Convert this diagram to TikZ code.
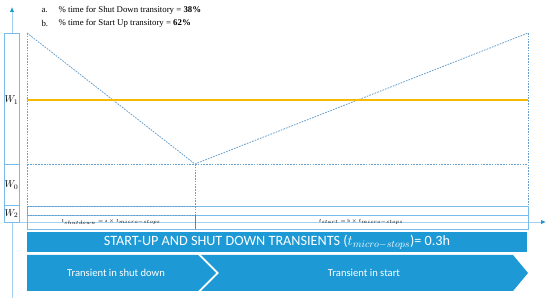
\documentclass[tikz,border=0pt]{standalone}
\usepackage{amsmath}
\usepackage{fontspec}
\setmainfont{Liberation Serif}
\newfontfamily\calibri{Carlito}
\usetikzlibrary{arrows.meta}

\definecolor{barblue}{RGB}{29,154,214}
\definecolor{boxblue}{RGB}{120,188,236}
\definecolor{dotblue}{RGB}{105,160,205}
\definecolor{axisblue}{RGB}{165,208,238}
\definecolor{wgold}{RGB}{247,186,0}

\begin{document}
\begin{tikzpicture}[x=1pt, y=-1pt,
    axis/.style={axisblue, line width=0.8pt, -{Latex[length=5pt, width=4.5pt, color=barblue]}},
    dotline/.style={dotblue, line width=0.8pt, dash pattern=on 1.7pt off 1.1pt},
    wbox/.style={boxblue, fill=white, line width=0.8pt},
    tbox/.style={boxblue, line width=0.8pt},
    chevron/.style={fill=barblue, draw=none},
    toptext/.style={anchor=west, font=\fontsize{8.8}{10}\selectfont},
    wlabel/.style={inner sep=0pt, font=\fontsize{10}{12}\selectfont},
    tlabel/.style={font=\fontsize{4.6}{5.5}\selectfont},
    bartext/.style={text=white, font=\calibri\fontsize{14.2}{16}\selectfont},
    chevtext/.style={text=white, font=\calibri\fontsize{10.6}{12}\selectfont}]
    \useasboundingbox (0,0) rectangle (550,302);

    % Axes
    \draw[axis] (12,298) -- (12,7);
    \draw[axis] (12,222) -- (546,222);

    % Percentages
    \node[toptext] (itema) at (38,10) {a.};
    \node[toptext] (texta) at (55,10) {\% time for Shut Down transitory = \textbf{38\%}};
    \node[toptext] (itemb) at (38,23.5) {b.};
    \node[toptext] (textb) at (55,23.5) {\% time for Start Up transitory = \textbf{62\%}};

    % Power levels on the left
    \draw[wbox] (4,33) rectangle (19,164);
    \draw[wbox] (4,164) rectangle (19,205);
    \draw[wbox] (4,205) rectangle (19,222);
    \node[wlabel] (w1) at (11.5,100) {$W_1$};
    \node[wlabel] (w0) at (11.5,185) {$W_0$};
    \node[wlabel] (w2) at (11.5,213.5) {$W_2$};

    % W2 band and time boxes
    \draw[tbox] (27,206) rectangle (528,215);
    \draw[tbox] (27,215) rectangle (195,229);
    \draw[tbox] (195,215) rectangle (528,229);
    \draw[barblue, line width=0.8pt] (195,215) -- (195,229);
    \node[tlabel] (tshut) at (111,222) {$t_{shutdown}=\mathrm{a}\times t_{micro-stops}$};
    \node[tlabel] (tstart) at (361,222) {$t_{start}=\mathrm{b}\times t_{micro-stops}$};

    % Dotted frame and transients
    \draw[dotline] (27,33) -- (27,215);
    \draw[dotline] (528,33) -- (528,206);
    \draw[dotline] (27,164) -- (528,164);
    \draw[dotline] (27,206) -- (195,206);
    \draw[dotline] (27,215) -- (195,215);
    \draw[dotline] (195,164) -- (195,215);
    \draw[dotline] (27,33) -- (195,164) -- (528,33);

    % W1 level
    \draw[wgold, line width=1.8pt] (27,100) -- (528,100);

    % Banner
    \fill[barblue] (27,232) rectangle (527,252);
    \node[bartext] (banner) at (277,242.5) {START-UP AND SHUT DOWN TRANSIENTS ($t_{micro-stops}$)= 0.3h};

    % Chevrons
    \fill[chevron] (27,255) -- (198,255) -- (216,273) -- (198,291) -- (27,291) -- cycle;
    \fill[chevron] (201,255) -- (513,255) -- (528,273) -- (513,291) -- (201,291) -- (219,273) -- cycle;
    \node[chevtext] (shutdown) at (116,273) {Transient in shut down};
    \node[chevtext] (start) at (364,273) {Transient in start};
\end{tikzpicture}
\end{document}
